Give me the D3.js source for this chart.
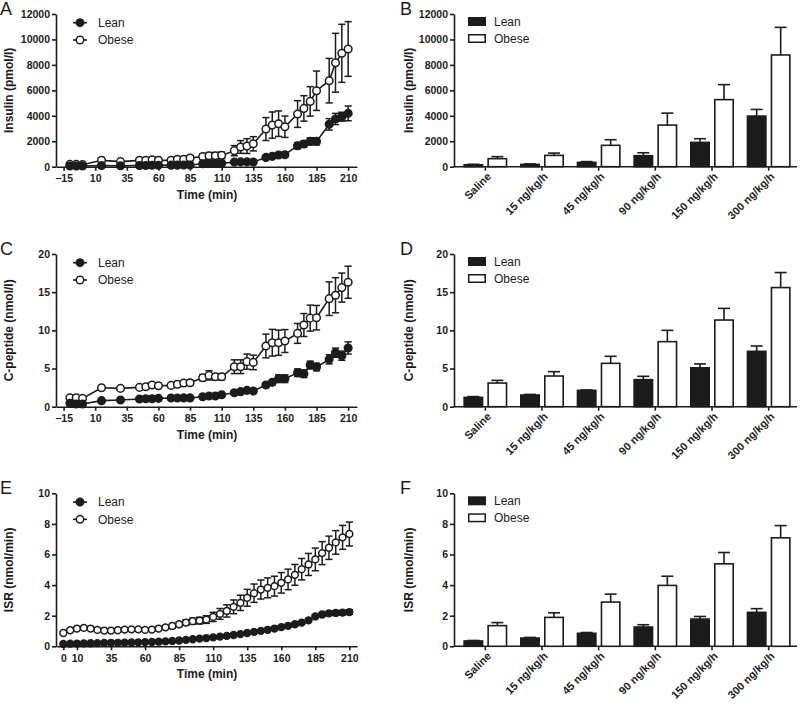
<!DOCTYPE html>
<html><head><meta charset="utf-8">
<script src="https://cdn.jsdelivr.net/npm/d3@7"></script>
<style>
html,body{margin:0;padding:0;background:#fff;}
svg{display:block;font-family:"Liberation Sans",Arial,sans-serif;}
</style></head>
<body>
<svg id="chart" width="800" height="706"></svg>
<script>
// ---------- DATA ----------
const timesAC = [-10,-5,0,15,30,45,50,55,60,70,75,80,85,95,100,105,110,120,125,130,135,145,150,155,160,170,175,180,185,195,200,205,210];
const insulinLean = [60,50,50,90,80,100,100,110,110,120,120,130,130,230,250,260,270,360,380,380,370,730,810,920,940,1650,1780,1990,1990,3330,3750,3930,4190];
const insulinLeanErr = [20,20,20,30,30,30,30,30,30,40,40,40,40,60,60,70,70,90,100,100,100,150,150,160,170,250,250,280,280,450,440,350,580];
const insulinObese = [180,180,160,500,400,500,500,550,500,500,580,580,680,790,860,860,890,1260,1550,1620,1800,2960,3270,3380,3140,4140,4580,5130,5970,6760,8170,8910,9250];
const insulinObeseErr = [60,60,50,120,100,150,150,160,150,150,160,170,190,230,250,250,260,400,500,580,560,900,1030,1000,840,1050,1000,1160,1550,1750,2310,2280,2150];

const cpepLean = [0.44,0.35,0.35,0.79,0.87,1.0,1.05,1.05,1.09,1.13,1.13,1.15,1.15,1.31,1.4,1.4,1.57,1.83,1.97,2.14,2.05,2.84,3.19,3.67,3.67,4.45,4.32,5.46,5.2,6.2,7.07,6.68,7.69];
const cpepLeanErr = [0.08,0.06,0.06,0.1,0.1,0.1,0.1,0.1,0.1,0.1,0.1,0.1,0.1,0.12,0.12,0.12,0.15,0.2,0.2,0.2,0.2,0.3,0.3,0.5,0.5,0.5,0.5,0.5,0.5,0.6,0.6,0.6,0.8];
const cpepObese = [1.18,1.18,1.09,2.49,2.4,2.53,2.62,2.84,2.75,2.79,2.93,3.1,3.14,3.8,4.1,3.93,3.93,5.24,5.24,5.9,5.8,7.95,8.38,8.38,8.6,9.6,10.7,11.6,11.66,14.15,14.6,15.6,16.3];
const cpepObeseErr = [0.15,0.15,0.15,0.25,0.25,0.25,0.25,0.3,0.3,0.3,0.3,0.3,0.3,0.4,0.6,0.4,0.4,0.9,0.9,1.0,0.95,1.55,1.75,1.65,1.5,1.3,1.5,1.7,1.6,2.2,2.3,1.9,2.1];

const timesE = [0,5,10,15,20,25,30,35,40,45,50,55,60,65,70,75,80,85,90,95,100,105,110,115,120,125,130,135,140,145,150,155,160,165,170,175,180,185,190,195,200,205,210];
const isrLean = [0.15,0.17,0.18,0.19,0.2,0.21,0.22,0.23,0.23,0.24,0.25,0.26,0.27,0.28,0.3,0.32,0.35,0.38,0.42,0.46,0.5,0.54,0.58,0.63,0.68,0.74,0.8,0.87,0.94,1.01,1.08,1.16,1.25,1.34,1.44,1.55,1.7,1.95,2.08,2.15,2.18,2.2,2.24];
const isrLeanErr = [0.03,0.03,0.03,0.03,0.03,0.03,0.03,0.03,0.03,0.03,0.03,0.03,0.03,0.03,0.04,0.04,0.04,0.04,0.04,0.05,0.05,0.05,0.05,0.06,0.06,0.06,0.07,0.07,0.07,0.08,0.08,0.08,0.09,0.09,0.1,0.1,0.1,0.12,0.13,0.14,0.15,0.15,0.15];
const isrObese = [0.87,1.05,1.16,1.2,1.16,1.07,1.03,1.03,1.05,1.09,1.11,1.11,1.07,1.09,1.16,1.24,1.33,1.44,1.55,1.64,1.68,1.75,1.92,2.12,2.31,2.58,2.84,3.17,3.47,3.71,3.82,3.93,4.15,4.37,4.67,5.04,5.35,5.68,6.09,6.44,6.79,7.12,7.34];
const isrObeseErr = [0.1,0.1,0.1,0.1,0.1,0.1,0.1,0.1,0.1,0.1,0.1,0.1,0.1,0.1,0.1,0.12,0.13,0.15,0.18,0.2,0.22,0.25,0.3,0.35,0.4,0.45,0.5,0.55,0.6,0.62,0.65,0.65,0.67,0.67,0.68,0.7,0.72,0.74,0.75,0.76,0.77,0.78,0.78];

const doses = ["Saline","15 ng/kg/h","45 ng/kg/h","90 ng/kg/h","150 ng/kg/h","300 ng/kg/h"];
const insBarLean = [150,180,340,865,1910,3980];
const insBarLeanErr = [40,40,60,230,290,520];
const insBarObese = [630,890,1680,3270,5270,8780];
const insBarObeseErr = [160,180,440,940,1180,2170];
const cpBarLean = [1.22,1.53,2.14,3.54,5.1,7.25];
const cpBarLeanErr = [0.1,0.08,0.05,0.44,0.5,0.7];
const cpBarObese = [3.1,4.02,5.68,8.52,11.35,15.6];
const cpBarObeseErr = [0.35,0.57,0.92,1.48,1.53,1.97];
const isrBarLean = [0.35,0.54,0.85,1.26,1.78,2.22];
const isrBarLeanErr = [0.03,0.04,0.05,0.15,0.17,0.24];
const isrBarObese = [1.35,1.89,2.89,3.98,5.39,7.09];
const isrBarObeseErr = [0.2,0.3,0.52,0.6,0.74,0.8];

const timeTicksAC = [-15,10,35,60,85,110,135,160,185,210];
const timeTicksE = [0,10,35,60,85,110,135,160,185,210];
const groups = ["Lean","Obese"];

// ---------- DRAW ----------
const svg = d3.select("#chart");
const INK = "#1c1c1c";

function styleAxis(g){
  g.select(".domain").attr("stroke", INK).attr("stroke-width", 1.6);
  g.selectAll(".tick line").attr("stroke", INK).attr("stroke-width", 1.6);
  g.selectAll(".tick text").attr("fill", INK).attr("font-size", "10.5px").attr("font-weight", "bold")
    .attr("font-family", "'Liberation Sans', Arial, sans-serif");
}

function panelLetter(letter, x, y){
  svg.append("text").attr("x", x).attr("y", y).text(letter)
    .attr("font-size", "18px").attr("fill", INK);
}

function yTitle(text, x, yMid){
  svg.append("text").attr("transform", `translate(${x},${yMid}) rotate(-90)`)
    .attr("text-anchor", "middle").attr("font-size", "12px").attr("font-weight", "bold")
    .attr("fill", INK).text(text);
}

function linePanel(cfg){
  const x = d3.scaleLinear().domain(cfg.xDomain).range([56, 357]);
  const y = d3.scaleLinear().domain(cfg.yDomain).range([cfg.y0, cfg.yTop]);
  const gy = svg.append("g").attr("transform", `translate(56,0)`)
    .call(d3.axisLeft(y).tickValues(cfg.yTicks).tickSize(4).tickPadding(2).tickSizeOuter(0).tickFormat(d3.format("d")));
  styleAxis(gy);
  const gx = svg.append("g").attr("transform", `translate(0,${cfg.y0})`)
    .call(d3.axisBottom(x).tickValues(cfg.xTicks).tickSize(4).tickPadding(4).tickSizeOuter(0));
  styleAxis(gx);
  svg.append("text").attr("x", 207).attr("y", cfg.y0 + 32).attr("text-anchor", "middle")
    .attr("font-size", "12px").attr("font-weight", "bold").attr("fill", INK).text("Time (min)");
  yTitle(cfg.title, 13, (cfg.y0 + cfg.yTop) / 2);
  panelLetter(cfg.letter, 0, cfg.yTop + 1);

  const series = [
    {name: "Obese", vals: cfg.obese, errs: cfg.obeseErr, fill: "#fff"},
    {name: "Lean", vals: cfg.lean, errs: cfg.leanErr, fill: INK}
  ];
  const line = d3.line().x(d => x(d.t)).y(d => y(d.v));
  series.forEach(s => {
    const pts = cfg.times.map((t, i) => ({t, v: s.vals[i], e: s.errs[i]}));
    const g = svg.append("g");
    const eb = g.selectAll("g.eb").data(pts).join("g");
    eb.append("line").attr("x1", d => x(d.t)).attr("x2", d => x(d.t))
      .attr("y1", d => y(d.v - d.e)).attr("y2", d => y(d.v + d.e))
      .attr("stroke", INK).attr("stroke-width", 1.5);
    eb.append("line").attr("x1", d => x(d.t) - 3.6).attr("x2", d => x(d.t) + 3.6)
      .attr("y1", d => y(d.v + d.e)).attr("y2", d => y(d.v + d.e))
      .attr("stroke", INK).attr("stroke-width", 1.5);
    eb.append("line").attr("x1", d => x(d.t) - 3.6).attr("x2", d => x(d.t) + 3.6)
      .attr("y1", d => y(d.v - d.e)).attr("y2", d => y(d.v - d.e))
      .attr("stroke", INK).attr("stroke-width", 1.5);
    g.append("path").datum(pts).attr("d", line).attr("fill", "none")
      .attr("stroke", INK).attr("stroke-width", 1.6);
    g.selectAll("circle").data(pts).join("circle")
      .attr("cx", d => x(d.t)).attr("cy", d => y(d.v)).attr("r", cfg.r)
      .attr("fill", s.fill).attr("stroke", INK).attr("stroke-width", 1.5);
  });

  const leg = [{name: "Lean", fill: INK, dy: 8.7}, {name: "Obese", fill: "#fff", dy: 26}];
  leg.forEach(l => {
    const ly = cfg.yTop + l.dy;
    svg.append("line").attr("x1", 73).attr("x2", 87).attr("y1", ly).attr("y2", ly)
      .attr("stroke", INK).attr("stroke-width", 1.6);
    svg.append("circle").attr("cx", 80).attr("cy", ly).attr("r", 3.7)
      .attr("fill", l.fill).attr("stroke", INK).attr("stroke-width", 1.5);
    svg.append("text").attr("x", 98).attr("y", ly + 4.3).attr("font-size", "12px")
      .attr("fill", INK).text(l.name);
  });
}

function barPanel(cfg){
  const x0 = d3.scaleBand().domain(doses).range([457, 797]).padding(0);
  const x1 = d3.scaleBand().domain(groups).range([-22, 22]).paddingInner(0.1667).paddingOuter(0);
  const y = d3.scaleLinear().domain(cfg.yDomain).range([cfg.y0, cfg.yTop]);
  const gy = svg.append("g").attr("transform", `translate(454,0)`)
    .call(d3.axisLeft(y).tickValues(cfg.yTicks).tickSize(4).tickPadding(2).tickSizeOuter(0).tickFormat(d3.format("d")));
  styleAxis(gy);
  const gx = svg.append("g").attr("transform", `translate(0,${cfg.y0})`)
    .call(d3.axisBottom(x0).tickSize(4).tickSizeOuter(0).tickPadding(3));
  styleAxis(gx);
  gx.select(".domain").attr("d", `M454,0H797`);
  gx.selectAll(".tick").attr("transform", d => `translate(${x0(d) + x0.bandwidth() / 2},0)`);
  gx.selectAll(".tick text").attr("text-anchor", "end").attr("font-size", "11px")
    .attr("transform", "translate(-1,3) rotate(-45)").attr("dy", "0.6em").attr("y", 4);

  yTitle(cfg.title, 413, (cfg.y0 + cfg.yTop) / 2);
  panelLetter(cfg.letter, 400, cfg.yTop + 1);

  const sets = [
    {name: "Lean", vals: cfg.lean, errs: cfg.leanErr, fill: INK},
    {name: "Obese", vals: cfg.obese, errs: cfg.obeseErr, fill: "#fff"}
  ];
  sets.forEach(s => {
    const data = doses.map((d, i) => ({d, v: s.vals[i], e: s.errs[i]}));
    const g = svg.append("g");
    const cx = d => x0(d.d) + x0.bandwidth() / 2 + x1(s.name) + x1.bandwidth() / 2;
    g.selectAll("line.err").data(data).join("line")
      .attr("x1", cx).attr("x2", cx).attr("y1", d => y(d.v)).attr("y2", d => y(d.v + d.e))
      .attr("stroke", INK).attr("stroke-width", 1.6);
    g.selectAll("line.cap").data(data).join("line")
      .attr("x1", d => cx(d) - 6).attr("x2", d => cx(d) + 6)
      .attr("y1", d => y(d.v + d.e)).attr("y2", d => y(d.v + d.e))
      .attr("stroke", INK).attr("stroke-width", 1.6);
    g.selectAll("rect").data(data).join("rect")
      .attr("x", d => x0(d.d) + x0.bandwidth() / 2 + x1(s.name) + 0.8)
      .attr("width", x1.bandwidth() - 1.6)
      .attr("y", d => y(d.v))
      .attr("height", d => y(0) - y(d.v))
      .attr("fill", s.fill).attr("stroke", INK).attr("stroke-width", 1.6);
  });

  const leg = [{name: "Lean", fill: INK, dy: 3}, {name: "Obese", fill: "#fff", dy: 20}];
  leg.forEach(l => {
    const ry = cfg.yTop + l.dy;
    svg.append("rect").attr("x", 468.75).attr("y", ry + 0.75).attr("width", 16.5).attr("height", 7.5)
      .attr("fill", l.fill).attr("stroke", INK).attr("stroke-width", 1.5);
    svg.append("text").attr("x", 494).attr("y", ry + 8.7).attr("font-size", "12px")
      .attr("fill", INK).text(l.name);
  });
}

linePanel({letter: "A", title: "Insulin (pmol/l)", xDomain: [-21, 217], xTicks: timeTicksAC,
  yDomain: [0, 12000], y0: 166.7, yTop: 14, yTicks: [0,2000,4000,6000,8000,10000,12000],
  times: timesAC, lean: insulinLean, leanErr: insulinLeanErr, obese: insulinObese, obeseErr: insulinObeseErr, r: 3.8});
linePanel({letter: "C", title: "C-peptide (nmol/l)", xDomain: [-21, 217], xTicks: timeTicksAC,
  yDomain: [0, 20], y0: 406.7, yTop: 254, yTicks: [0,5,10,15,20],
  times: timesAC, lean: cpepLean, leanErr: cpepLeanErr, obese: cpepObese, obeseErr: cpepObeseErr, r: 3.8});
linePanel({letter: "E", title: "ISR (nmol/min)", xDomain: [-5.4, 215.6], xTicks: timeTicksE,
  yDomain: [0, 10], y0: 646.3, yTop: 493.3, yTicks: [0,2,4,6,8,10],
  times: timesE, lean: isrLean, leanErr: isrLeanErr, obese: isrObese, obeseErr: isrObeseErr, r: 3.4});

barPanel({letter: "B", title: "Insulin (pmol/l)", yDomain: [0, 12000], y0: 166.7, yTop: 14,
  yTicks: [0,2000,4000,6000,8000,10000,12000],
  lean: insBarLean, leanErr: insBarLeanErr, obese: insBarObese, obeseErr: insBarObeseErr});
barPanel({letter: "D", title: "C-peptide (nmol/l)", yDomain: [0, 20], y0: 406.7, yTop: 254,
  yTicks: [0,5,10,15,20],
  lean: cpBarLean, leanErr: cpBarLeanErr, obese: cpBarObese, obeseErr: cpBarObeseErr});
barPanel({letter: "F", title: "ISR (nmol/min)", yDomain: [0, 10], y0: 646.3, yTop: 493.3,
  yTicks: [0,2,4,6,8,10],
  lean: isrBarLean, leanErr: isrBarLeanErr, obese: isrBarObese, obeseErr: isrBarObeseErr});
</script>
</body></html>
